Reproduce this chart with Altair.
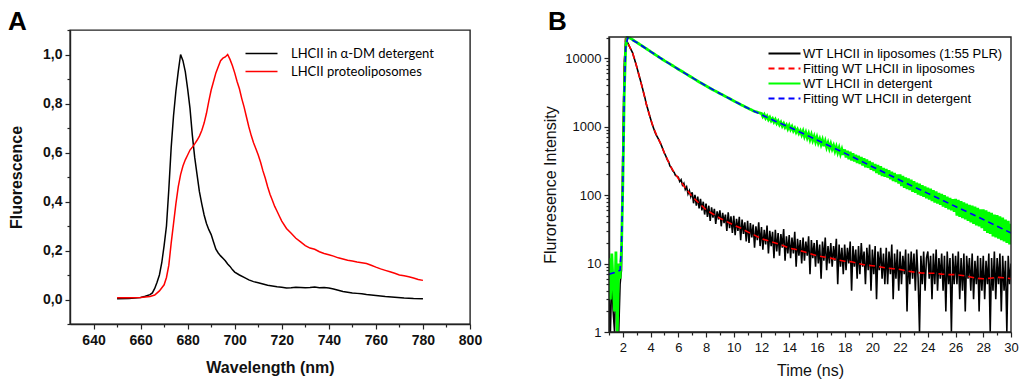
import altair as alt
import pandas as pd

# ---------------- Panel A : steady-state fluorescence spectra ----------------
A_SERIES = ["LHCII in \u03b1-DM detergent", "LHCII proteoliposomes"]
A_COLORS = ["#000000", "#ff0000"]

A_BLACK_WL = [650, 655, 660, 662, 664, 665, 666, 667, 668, 669, 670, 671, 672, 673, 674, 675,
              676, 677, 678, 679, 680, 681, 682, 683, 684, 685, 686, 687, 688, 689, 690, 691,
              692, 693, 694, 695, 696, 697, 698, 699, 700, 702, 704, 706, 708, 710, 712, 714,
              716, 718, 720, 722, 724, 726, 728, 730, 732, 734, 736, 738, 740, 742, 744, 746,
              748, 750, 752, 754, 756, 758, 760, 764, 768, 772, 776, 780]
A_BLACK_FL = [0.003, 0.004, 0.008, 0.013, 0.02, 0.027, 0.045, 0.07, 0.10, 0.15, 0.22, 0.30,
              0.45, 0.62, 0.75, 0.85, 0.93, 1.0, 0.975, 0.93, 0.86, 0.78, 0.67, 0.58, 0.51,
              0.44, 0.39, 0.345, 0.31, 0.285, 0.265, 0.235, 0.205, 0.19, 0.178, 0.168, 0.158,
              0.145, 0.135, 0.122, 0.112, 0.10, 0.09, 0.08, 0.073, 0.068, 0.063, 0.058, 0.055,
              0.052, 0.05, 0.047, 0.048, 0.05, 0.049, 0.048, 0.049, 0.051, 0.048, 0.049, 0.047,
              0.043, 0.038, 0.033, 0.03, 0.027, 0.025, 0.023, 0.02, 0.018, 0.016, 0.012, 0.009,
              0.006, 0.004, 0.003]

A_RED_WL = [650, 655, 660, 664, 666, 668, 670, 671, 672, 673, 674, 675, 676, 677, 678, 679,
            680, 681, 682, 683, 684, 685, 686, 687, 688, 689, 690, 691, 692, 693, 694, 695,
            696, 697, 698, 699, 700, 701, 702, 703, 704, 705, 706, 707, 708, 709, 710, 711,
            712, 713, 714, 715, 716, 717, 718, 719, 720, 722, 724, 726, 728, 730, 732, 734,
            736, 738, 740, 742, 744, 746, 748, 750, 752, 754, 756, 758, 760, 762, 764, 766,
            768, 770, 772, 774, 776, 778, 780]
A_RED_FL = [0.007, 0.007, 0.008, 0.012, 0.018, 0.035, 0.06, 0.09, 0.14, 0.23, 0.31, 0.39,
            0.46, 0.51, 0.545, 0.57, 0.59, 0.61, 0.622, 0.635, 0.65, 0.667, 0.69, 0.72, 0.76,
            0.81, 0.855, 0.89, 0.925, 0.95, 0.975, 0.985, 0.99, 1.0, 0.98, 0.955, 0.925, 0.89,
            0.86, 0.82, 0.785, 0.745, 0.705, 0.67, 0.64, 0.615, 0.59, 0.56, 0.525, 0.495, 0.46,
            0.43, 0.405, 0.38, 0.36, 0.34, 0.32, 0.29, 0.27, 0.25, 0.235, 0.22, 0.21, 0.205,
            0.195, 0.188, 0.183, 0.177, 0.17, 0.165, 0.16, 0.157, 0.153, 0.15, 0.147, 0.14,
            0.132, 0.125, 0.119, 0.113, 0.107, 0.10, 0.097, 0.093, 0.088, 0.082, 0.078]

A_X_DOMAIN = [630, 800]
A_Y_DOMAIN = [-0.1, 1.1]
A_X_TICKS = [640, 650, 660, 670, 680, 690, 700, 710, 720, 730, 740, 750, 760, 770, 780, 790, 800]
A_Y_TICKS = [-0.1, 0.0, 0.1, 0.2, 0.3, 0.4, 0.5, 0.6, 0.7, 0.8, 0.9, 1.0, 1.1]
PANEL_LETTERS = ["A", "B"]

# ---------------- Panel B : time-resolved fluorescence decays ----------------
B_SERIES = ["WT LHCII in liposomes (1:55 PLR)", "Fitting WT LHCII in liposomes",
            "WT LHCII in detergent", "Fitting WT LHCII in detergent"]
B_COLORS = ["#000000", "#ff0000", "#00ff00", "#0000ff"]
B_DASHES = [[1, 0], [6, 4], [1, 0], [6, 4]]
B_X_DOMAIN = [1, 30]
B_Y_DOMAIN = [1, 20400]

# measured decay in liposomes, one value every 0.1 ns from 1.0 ns to 30.0 ns
B_BLACK_I = [
    4, 1, 6, 2, 1, 7, 3, 1, 5, 8,
    500, 8000, 19500, 17500, 16000, 14500, 13200, 12000, 10300, 8800,
    7500, 6300, 5300, 4500, 3750, 3100, 2600, 2100, 1800, 1520,
    1300, 1110, 970, 850, 760, 700, 640, 580, 520, 460,
    410, 372, 330, 305, 266, 252, 226, 215, 193, 188,
    182, 158, 168, 140, 149, 121, 132, 104, 116, 95,
    110, 76, 101, 70, 95, 64, 88, 60, 80, 52,
    75, 48, 70, 42, 66, 47, 63, 38, 58, 44,
    60, 35, 55, 39, 52, 30, 56, 33, 49, 28,
    50, 26, 45, 30, 48, 22, 44, 27, 40, 21,
    42, 20, 39, 24, 37, 17, 35, 22, 40, 18,
    34, 16, 31, 19, 36, 14, 30, 18, 29, 12,
    31, 15, 28, 13, 27, 17, 32, 11, 25, 14,
    26, 12, 24, 14, 29, 9, 23, 13, 22, 10,
    24, 11, 21, 13, 25, 7, 22, 12, 20, 9,
    22, 10, 19, 6, 21, 11, 24, 8, 18, 10,
    20, 9, 18, 11, 23, 5, 19, 9, 17, 7,
    19, 8, 17, 10, 21, 4, 18, 9, 16, 6,
    18, 7, 20, 9, 15, 5, 17, 8, 19, 4,
    16, 7, 18, 3, 15, 8, 17, 6, 14, 5,
    17, 5, 15, 7, 19, 3, 14, 6, 16, 4,
    15, 5, 13, 7, 16, 2, 14, 5, 15, 6,
    14, 4, 16, 6, 1, 13, 5, 15, 4, 12,
    15, 6, 13, 3, 14, 5, 16, 4, 12, 6,
    14, 4, 13, 2, 15, 5, 12, 1, 14, 5,
    13, 5, 15, 3, 12, 4, 14, 2, 13, 6,
    12, 4, 14, 3, 11, 5, 13, 2, 12, 4,
    13, 3, 11, 5, 14, 1, 12, 4, 15, 3,
    12, 5, 14, 2, 13, 4, 11, 1, 13, 5,
    10]

B_RED_T = [1.0, 1.5, 1.8, 1.9, 2.0, 2.1, 2.2, 2.3, 2.5, 2.7, 3.0, 3.2, 3.5, 3.7, 4.0, 4.2, 4.5,
           4.7, 5.0, 5.5, 6.0, 6.5, 7.0, 7.5, 8.0, 8.5, 9.0, 9.5, 10.0, 10.5, 11.0, 11.5, 12.0,
           12.5, 13.0, 13.5, 14.0, 14.5, 15.0, 15.5, 16.0, 16.5, 17.0, 17.5, 18.0, 18.5, 19.0,
           19.5, 20.0, 20.5, 21.0, 21.5, 22.0, 22.5, 23.0, 23.5, 24.0, 24.5, 25.0, 25.5, 26.0,
           26.5, 27.0, 27.5, 28.0, 28.5, 29.0, 29.5, 30.0]
B_RED_I = [7, 7.5, 8, 16, 500, 8000, 19500, 17500, 14500, 12000, 7500, 5300, 3100, 2100, 1300,
           970, 700, 580, 410, 250, 175, 128, 95, 76, 61, 53, 46, 41, 36.5, 33, 29, 26, 23,
           21.5, 20, 18.5, 16.8, 16, 15, 14, 13, 12.5, 12, 11.3, 10.8, 10.6, 10, 9.5, 9.3, 9.0,
           8.6, 8.4, 8.2, 7.8, 7.5, 7.3, 7.2, 7.2, 7.0, 6.9, 6.9, 6.7, 6.4, 6.1, 6.0, 6.1, 6.3,
           6.2, 6.0]

# measured decay in detergent: irregular early samples, then every 0.1 ns from 12.0 to 30.0 ns
B_GREEN_T_EARLY = [1.0, 1.1, 1.2, 1.3, 1.4, 1.5, 1.6, 1.7, 1.8, 1.9, 2.0, 2.1, 2.2, 2.3, 2.5,
                   3.0, 3.5, 4.0, 4.5, 5.0, 5.5, 6.0, 6.5, 7.0, 7.5, 8.0, 8.5, 9.0, 9.5, 10.0,
                   10.5, 11.0, 11.5]
B_GREEN_I_EARLY = [12, 3, 14, 5, 2, 15, 1, 10, 6, 16, 150, 3000, 14000, 20000, 19800, 17000,
                   14600, 12500, 10700, 9200, 8000, 6900, 6000, 5200, 4500, 3950, 3450, 3050,
                   2700, 2380, 2100, 1870, 1670]
B_GREEN_I_LATE = [
    1560, 1400, 1500, 1330, 1430, 1270, 1370, 1220, 1310, 1170,
    1270, 1120, 1210, 1070, 1160, 1020, 1110, 980, 1060, 930,
    1040, 910, 1000, 870, 950, 830, 910, 800, 870, 760,
    860, 720, 820, 690, 790, 650, 760, 630, 720, 600,
    700, 580, 660, 550, 640, 520, 610, 500, 580, 480,
    560, 470, 530, 440, 510, 420, 490, 400, 465, 385,
    465, 355, 445, 335, 430, 320, 410, 310, 390, 295,
    375, 285, 360, 270, 345, 255, 330, 250, 315, 235,
    300, 225, 285, 210, 275, 200, 265, 190, 250, 185,
    240, 180, 230, 170, 220, 160, 210, 155, 200, 148,
    200, 135, 190, 128, 182, 122, 175, 118, 168, 112,
    160, 108, 152, 102, 147, 98, 140, 94, 134, 90,
    128, 86, 124, 82, 118, 78, 113, 75, 108, 72,
    104, 68, 100, 65, 95, 62, 91, 60, 87, 57,
    88, 50, 85, 48, 82, 46, 78, 44, 75, 42,
    72, 40, 70, 38, 68, 36, 65, 35, 62, 33,
    62, 30, 60, 28, 57, 27, 55, 25, 52, 24,
    51, 23, 49, 22, 47, 21, 44, 20, 42, 19,
    38]

B_BLUE_T = [1.0, 1.5, 1.8, 1.9, 2.0, 2.1, 2.2, 2.35, 3.0, 4.0, 5.0, 6.0, 7.0, 8.0, 9.0, 10.0,
            11.0, 12.0, 13.0, 14.0, 15.0, 16.0, 17.0, 18.0, 19.0, 20.0, 21.0, 22.0, 23.0, 24.0,
            25.0, 26.0, 27.0, 28.0, 29.0, 30.0]
B_BLUE_I = [7, 7.5, 8, 18, 150, 3000, 14000, 20000, 17000, 12500, 9200, 6900, 5200, 3950, 3050,
            2380, 1870, 1490, 1200, 985, 795, 640, 512, 410, 328, 260, 207, 165, 132, 106, 85,
            68, 55, 44, 35, 28]

B_X_TICKS = list(range(1, 31))
B_Y_TICKS = [m * 10 ** e for e in range(5) for m in range(1, 10) if m * 10 ** e <= 20000]

# ---------------- tables ----------------
df_a_black = pd.DataFrame({"wl": A_BLACK_WL, "fl": A_BLACK_FL, "series": A_SERIES[0]})
df_a_red = pd.DataFrame({"wl": A_RED_WL, "fl": A_RED_FL, "series": A_SERIES[1]})

t_black = [round(1.0 + 0.1 * i, 1) for i in range(len(B_BLACK_I))]
t_green = B_GREEN_T_EARLY + [round(12.0 + 0.1 * i, 1) for i in range(len(B_GREEN_I_LATE))]
df_b_black = pd.DataFrame({"t": t_black, "i": B_BLACK_I, "series": B_SERIES[0]})
df_b_red = pd.DataFrame({"t": B_RED_T, "i": B_RED_I, "series": B_SERIES[1]})
df_b_green = pd.DataFrame({"t": t_green, "i": B_GREEN_I_EARLY + B_GREEN_I_LATE, "series": B_SERIES[2]})
df_b_blue = pd.DataFrame({"t": B_BLUE_T, "i": B_BLUE_I, "series": B_SERIES[3]})
# outline of panel B's plotting region = its axis domains
df_b_frame = pd.DataFrame({"t": [B_X_DOMAIN[0]], "t2": [B_X_DOMAIN[1]],
                           "i": [B_Y_DOMAIN[0]], "i2": [B_Y_DOMAIN[1]]})

BOLD = "Liberation Sans"
REG = "Liberation Sans"
FRAME = "#222222"


def letter(idx, dx, dy):
    return alt.Chart(pd.DataFrame({"label": [PANEL_LETTERS[idx]]})).mark_text(
        font=BOLD, fontSize=26, fontWeight="bold", align="left", baseline="alphabetic",
        color="black"
    ).encode(x=alt.value(dx), y=alt.value(dy), text="label:N")


# ---------------- panel A ----------------
a_major_x = "datum.value % 20 == 0"
a_major_y = "round(datum.value * 10) % 2 == 0 && datum.value > -0.05 && datum.value < 1.05"

ax_a_x = alt.Axis(values=A_X_TICKS, title="Wavelength (nm)", labelFont=BOLD, labelFontSize=14,
                  labelFontWeight="bold", titleFont=BOLD, titleFontSize=16, titleFontWeight="bold",
                  labelExpr=f"{a_major_x} ? datum.label : ''", labelOverlap=False, labelFlush=False,
                  tickSize={"condition": {"test": a_major_x, "value": 5}, "value": 3},
                  labelPadding=4, titlePadding=12, grid=False)
ax_a_y = alt.Axis(values=A_Y_TICKS, title="Fluorescence", labelFont=BOLD, labelFontSize=14,
                  labelFontWeight="bold", titleFont=BOLD, titleFontSize=16, titleFontWeight="bold",
                  labelExpr=f"({a_major_y}) ? replace(format(datum.value, '.1f'), '.', ',') : ''",
                  labelOverlap=False, labelFlush=False,
                  tickSize={"condition": {"test": a_major_y, "value": 5}, "value": 3},
                  labelPadding=3, titlePadding=18, grid=False)

leg_a = alt.Legend(title=None, orient="none", legendX=185, legendY=17, symbolType="M-4,0H4",
                   symbolSize=64, symbolStrokeWidth=1.5, labelFont="Lato", labelFontSize=13,
                   labelOffset=23, rowPadding=4, padding=0, labelColor="black", labelLimit=400)

enc_a = dict(
    x=alt.X("wl:Q", scale=alt.Scale(domain=A_X_DOMAIN, nice=False, zero=False), axis=ax_a_x),
    y=alt.Y("fl:Q", scale=alt.Scale(domain=A_Y_DOMAIN, nice=False, zero=False), axis=ax_a_y),
    color=alt.Color("series:N", scale=alt.Scale(domain=A_SERIES, range=A_COLORS), legend=leg_a),
)
panel_a = alt.layer(
    alt.Chart(df_a_black).mark_line(strokeWidth=1.5).encode(**enc_a),
    alt.Chart(df_a_red).mark_line(strokeWidth=1.5).encode(**enc_a),
    letter(0, -62, 0),
).properties(width=400, height=294)

# ---------------- panel B ----------------
B_H = 302       # group height; the plot itself starts 7 px lower than panel A's
b_major_x = "datum.value % 2 == 0"
b_major_y = "abs(log(datum.value) / LN10 - round(log(datum.value) / LN10)) < 0.001"

ax_b_x = alt.Axis(values=B_X_TICKS, title="Time (ns)", labelFont=REG, labelFontSize=13,
                  titleFont=REG, titleFontSize=16, titleFontWeight="normal",
                  labelExpr=f"{b_major_x} ? datum.label : ''", labelOverlap=False, labelFlush=False,
                  tickSize={"condition": {"test": b_major_x, "value": 5}, "value": 3},
                  labelPadding=4, titlePadding=8, grid=False)
ax_b_y = alt.Axis(values=B_Y_TICKS, title="Fluroresence Intensity", labelFont=REG,
                  labelFontSize=13, titleFont=REG, titleFontSize=16, titleFontWeight="normal",
                  labelExpr=f"({b_major_y}) ? format(datum.value, 'd') : ''",
                  labelOverlap=False, labelFlush=False,
                  tickSize={"condition": {"test": b_major_y, "value": 5}, "value": 3},
                  labelPadding=3, titlePadding=6, grid=False)

leg_b = alt.Legend(title=None, orient="none", legendX=169, legendY=17, symbolType="M-4,0H4",
                   symbolSize=64, symbolStrokeWidth=1.8, labelFont=REG, labelFontSize=13,
                   labelOffset=12, rowPadding=1, padding=0, labelColor="black", labelLimit=400)

xs_b = alt.Scale(domain=B_X_DOMAIN, nice=False, zero=False)
ys_b = alt.Scale(type="log", domain=B_Y_DOMAIN, nice=False, range=[B_H, 7])
enc_b = dict(
    x=alt.X("t:Q", scale=xs_b, axis=ax_b_x),
    y=alt.Y("i:Q", scale=ys_b, axis=ax_b_y),
    color=alt.Color("series:N", scale=alt.Scale(domain=B_SERIES, range=B_COLORS), legend=leg_b),
    strokeDash=alt.StrokeDash("series:N", scale=alt.Scale(domain=B_SERIES, range=B_DASHES),
                              legend=leg_b),
)
frame_b = alt.Chart(df_b_frame).mark_rect(
    fillOpacity=0, stroke=FRAME, strokeWidth=1.4
).encode(x=alt.X("t:Q", scale=xs_b, axis=ax_b_x), x2="t2:Q",
         y=alt.Y("i:Q", scale=ys_b, axis=ax_b_y), y2="i2:Q")

panel_b = alt.layer(
    alt.Chart(df_b_black).mark_line(strokeWidth=1.6, clip=True).encode(**enc_b),
    alt.Chart(df_b_red).mark_line(strokeWidth=1.6, clip=True).encode(**enc_b),
    alt.Chart(df_b_green).mark_line(strokeWidth=2.8, clip=True).encode(**enc_b),
    alt.Chart(df_b_blue).mark_line(strokeWidth=1.6, clip=True).encode(**enc_b),
    frame_b,
    letter(1, -61, 0),
).properties(width=402, height=B_H, view=alt.ViewBackground(stroke="transparent"))

chart = alt.hconcat(panel_a, panel_b, spacing=59).resolve_scale(
    color="independent", strokeDash="independent"
).resolve_legend(color="independent", strokeDash="independent").properties(
    padding={"left": 7, "top": 8, "right": 2, "bottom": 0}
).configure_view(stroke=FRAME, strokeWidth=1.4).configure_axis(
    domainColor=FRAME, domainWidth=1.4, tickColor=FRAME, tickWidth=1.2,
    labelColor="#111111", titleColor="#111111"
)

chart.save("out.html", embed_options={"renderer": "svg", "actions": False})
